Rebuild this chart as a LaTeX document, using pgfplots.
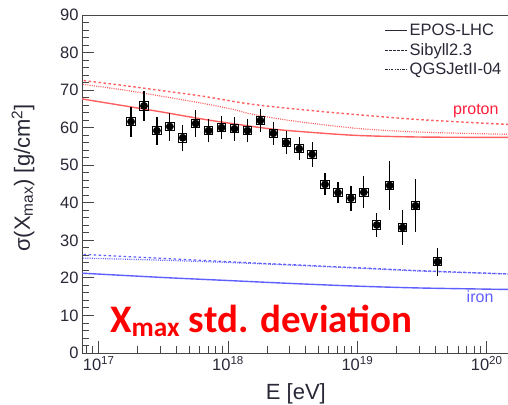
\documentclass[border=0pt]{standalone}
\usepackage{fontspec}
\setmainfont{Liberation Sans}
\newfontfamily\carlito{Carlito}
\usepackage{pgfplots}
\pgfplotsset{compat=1.18}
\definecolor{txt}{RGB}{40,40,55}
\definecolor{pred}{RGB}{255,95,95}
\definecolor{plab}{RGB}{255,30,60}
\definecolor{fblue}{RGB}{95,95,255}
\definecolor{axgray}{RGB}{70,70,70}

\pgfplotstableread{
E y stat sys
1.778e17 61.6 4.0 3.0
2.239e17 65.8 3.0 3.0
2.818e17 59.2 2.0 2.8
3.548e17 60.3 2.2 2.8
4.467e17 57.3 1.8 2.6
5.623e17 61.1 2.5 2.6
7.079e17 59.2 1.6 2.2
8.913e17 60.0 1.3 2.2
1.122e18 59.7 1.6 2.2
1.413e18 59.2 2.0 2.2
1.778e18 61.9 2.3 2.2
2.239e18 58.5 2.3 2.2
2.818e18 56.0 2.4 2.2
3.548e18 54.4 2.7 2.2
4.467e18 52.9 3.4 2.2
5.623e18 44.9 2.8 2.0
7.079e18 42.7 2.4 1.8
8.913e18 41.2 3.3 1.6
1.122e19 42.8 4.3 1.5
1.413e19 34.1 3.1 1.5
1.778e19 44.6 6.4 1.5
2.239e19 33.4 4.6 1.5
2.818e19 39.2 7.0 1.5
4.169e19 24.3 3.7 1.8
}\data

\begin{document}
\begin{tikzpicture}
\path[use as bounding box] (0,0) rectangle (508pt,404pt);
\begin{axis}[
  at={(82pt,51pt)}, anchor=south west, scale only axis,
  width=426pt, height=338pt,
  xmode=log, xmin=7.43e16, xmax=1.462e20, ymin=0, ymax=90,
  axis x line*=box, axis y line*=left,
  axis line style={axgray, line width=0.9pt, -},
  xtick pos=bottom, ytick pos=left, tick align=inside,
  ytick={0,10,...,90}, minor y tick num=4,
  xtick={1e17,1e18,1e19,1e20},
  xticklabels={10\textsuperscript{17},10\textsuperscript{18},10\textsuperscript{19},10\textsuperscript{20}},
  minor xtick={8e16,9e16,2e17,3e17,4e17,5e17,6e17,7e17,8e17,9e17,2e18,3e18,4e18,5e18,6e18,7e18,8e18,9e18,2e19,3e19,4e19,5e19,6e19,7e19,8e19,9e19},
  major tick length=12pt, minor tick length=7pt,
  tick style={axgray, line width=0.9pt},
  ticklabel style={font=\fontsize{16.5}{18}\selectfont, text=txt},
  /pgf/number format/assume math mode=true,
  xlabel={E [eV]},
  ylabel={σ(X\textsubscript{max}) [g/cm\textsuperscript{2}]},
  xlabel style={at={(axis description cs:0.502,-0.139)}, anchor=base, font=\fontsize{22}{24}\selectfont, text=txt},
  ylabel style={at={(axis description cs:-0.1385,0.518)}, anchor=center, font=\fontsize{22}{24}\selectfont, text=txt},
  legend style={at={(axis description cs:0.703,0.985)}, anchor=north west, draw=none, fill=none,
    font=\fontsize{16.5}{18}\selectfont, text=txt, row sep=2pt},
  legend cell align=left,
  legend image code/.code={\draw[#1] (0pt,0pt) -- (22pt,0pt);},
]
\addlegendimage{txt, solid, line width=1pt}
\addlegendentry{EPOS-LHC}
\addlegendimage{txt, dash pattern=on 2.5pt off 1.5pt, line width=1pt}
\addlegendentry{Sibyll2.3}
\addlegendimage{txt, dash pattern=on 2.5pt off 1.2pt on 0.8pt off 1.2pt, line width=1pt}
\addlegendentry{QGSJetII-04}

% proton
\addplot[forget plot, pred, line width=1.4pt, smooth] coordinates {
(7.0e16,67.8) (1.585e17,65.8) (3.162e17,64.1) (6.31e17,62.3) (1.122e18,61.0) (2.239e18,59.6) (5.012e18,58.6) (1.047e19,57.9) (3.162e19,57.5) (1.6e20,57.4)};
\addplot[forget plot, pred, line width=1.4pt, dash pattern=on 2.5pt off 2.5pt, smooth] coordinates {
(7.0e16,72.7) (1.585e17,71.2) (3.162e17,69.8) (6.31e17,68.4) (1.479e18,66.3) (3.981e18,64.7) (1.047e19,63.4) (3.162e19,62.1) (1.6e20,60.8)};
\addplot[forget plot, pred, line width=1.2pt, dash pattern=on 1pt off 1.2pt, smooth] coordinates {
(7.0e16,71.7) (1.585e17,70.0) (3.162e17,68.3) (6.31e17,66.5) (1.122e18,64.8) (1.479e18,63.7) (3.162e18,61.8) (1.0e19,59.8) (3.162e19,58.8) (1.6e20,58.2)};
% iron
\addplot[forget plot, fblue, line width=1.4pt, smooth] coordinates {
(7.0e16,21.3) (3.162e17,20.1) (1e18,19.3) (3.162e18,18.5) (1e19,17.8) (3.162e19,17.3) (1.6e20,16.9)};
\addplot[forget plot, fblue, line width=1.3pt, dash pattern=on 2.5pt off 2.5pt, smooth] coordinates {
(7.0e16,26.3) (3.162e17,25.2) (1e18,24.3) (3.162e18,23.5) (1e19,22.7) (3.162e19,21.9) (1.6e20,21.0)};
\addplot[forget plot, fblue, line width=1.2pt, dash pattern=on 1pt off 1.2pt, smooth] coordinates {
(7.0e16,25.3) (3.162e17,24.7) (1e18,24.1) (3.162e18,23.4) (1e19,22.6) (3.162e19,21.8) (1.6e20,21.0)};

% systematic
\addplot[forget plot, only marks, mark=square, mark size=4.2pt, mark options={black, line width=1pt},
  error bars/.cd, y dir=both, y explicit, error bar style={black, line width=1pt},
  error mark=-, error mark options={black, mark size=3.5pt, line width=1.2pt}]
  table[x=E, y=y, y error=sys] {\data};
% statistical
\addplot[forget plot, only marks, mark=*, mark size=3.7pt, mark options={black, fill=black},
  error bars/.cd, y dir=both, y explicit, error bar style={black, line width=1.2pt}, error mark=none]
  table[x=E, y=y, y error=stat] {\data};

\node[anchor=base east, text=plab, font=\fontsize{16}{18}\selectfont] at (rel axis cs:0.986,0.707) {proton};
\node[anchor=base east, text=fblue, font=\fontsize{16}{18}\selectfont] at (rel axis cs:0.974,0.148) {iron};
\node[anchor=base west, inner sep=0pt, text=red, font=\carlito\bfseries\fontsize{39}{44}\selectfont] at (rel axis cs:0.0657,0.0621) {X\textsubscript{max} std. deviation};
\end{axis}
\end{tikzpicture}
\end{document}
